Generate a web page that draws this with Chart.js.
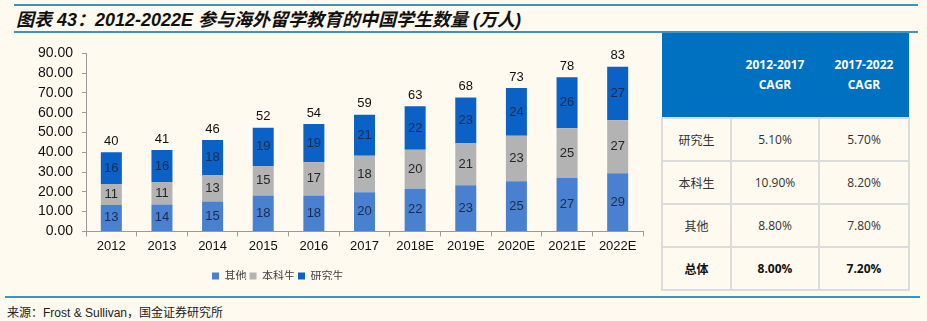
<!DOCTYPE html>
<html>
<head>
<meta charset="utf-8">
<script src="https://cdn.jsdelivr.net/npm/chart.js@4"></script>
<style>
  body { margin: 0; width: 927px; height: 321px; background: #fefaf0; position: relative; overflow: hidden; font-family: "Liberation Sans", Arial, "Noto Sans CJK SC", sans-serif; }
  .rule { position: absolute; height: 2px; background: #3a95c3; }
  #title { position: absolute; left: 16px; top: 5px; font: italic bold 18px "Liberation Sans", Arial, "Noto Sans CJK SC", sans-serif; color: #111; white-space: nowrap; }
  #chartBox { position: absolute; left: 0; top: 36px; width: 655px; height: 256px; }
  #source { position: absolute; left: 7px; top: 303px; font-size: 12px; color: #222; font-family: "Liberation Sans", Arial, "Noto Sans CJK SC", sans-serif; }
  #cagr { position: absolute; left: 661px; top: 33px; width: 247px; border-collapse: collapse; table-layout: fixed; font-family: "Open Sans", "Noto Sans CJK SC", sans-serif; }
  #cagr th { background: #0070c0; color: #fff; font-size: 12px; font-weight: bold; height: 84px; padding: 0; line-height: 20px; }
  #cagr td { border: 2px solid #dcdcdc; height: 41px; padding: 0; text-align: center; font-size: 12px; color: #333; }
  #cagr tr.total td { font-weight: bold; color: #111; }
</style>
</head>
<body>
<div class="rule" style="left:14px; top:4px; width:904px;"></div>
<div id="title">图表 43：2012-2022E 参与海外留学教育的中国学生数量 (万人)</div>
<div class="rule" style="left:14px; top:31px; width:904px;"></div>
<div id="chartBox"><canvas id="chart"></canvas></div>
<table id="cagr"></table>
<div class="rule" style="left:5px; top:296px; width:915px;"></div>
<div id="source">来源：Frost &amp; Sullivan，国金证券研究所</div>
<script>
const categories = ["2012", "2013", "2014", "2015", "2016", "2017", "2018E", "2019E", "2020E", "2021E", "2022E"];
const otherValues = [13.4, 13.6, 15.1, 18.2, 18.2, 19.8, 21.6, 23.3, 25.3, 27.0, 29.4];
const undergradValues = [10.6, 11.4, 13.4, 14.9, 16.8, 18.4, 19.7, 21.4, 23.0, 25.2, 26.8];
const graduateValues = [16.0, 16.1, 17.7, 19.3, 19.3, 20.8, 22.0, 23.0, 24.2, 25.8, 27.0];
const totalLabels = [40, 41, 46, 52, 54, 59, 63, 68, 73, 78, 83];
const yTickValues = [0, 10, 20, 30, 40, 50, 60, 70, 80, 90];

const tableHeaders = ["", "2012-2017<br>CAGR", "2017-2022<br>CAGR"];
const rowNames = ["研究生", "本科生", "其他", "总体"];
const cagr2012to2017 = ["5.10%", "10.90%", "8.80%", "8.00%"];
const cagr2017to2022 = ["5.70%", "8.20%", "7.80%", "7.20%"];

// table on the right
const table = document.getElementById("cagr");
let html = "<colgroup><col style='width:69px'><col style='width:88px'><col style='width:90px'></colgroup><tr>";
tableHeaders.forEach((h) => { html += "<th>" + h + "</th>"; });
html += "</tr>";
rowNames.forEach((name, i) => {
  html += "<tr" + (i === rowNames.length - 1 ? " class='total'" : "") + "><td>" + name + "</td><td>" +
    cagr2012to2017[i] + "</td><td>" + cagr2017to2022[i] + "</td></tr>";
});
table.innerHTML = html;

const barLabels = {
  id: "barLabels",
  afterDatasetsDraw(chart) {
    const ctx = chart.ctx;
    ctx.save();
    ctx.textAlign = "center";
    ctx.textBaseline = "middle";
    ctx.font = '13px "Liberation Sans", Arial, sans-serif';
    chart.data.datasets.forEach((ds, i) => {
      ctx.fillStyle = ds.labelColor;
      chart.getDatasetMeta(i).data.forEach((bar, j) => {
        ctx.fillText(Math.round(ds.data[j]), bar.x, (bar.y + bar.base) / 2);
      });
    });
    ctx.fillStyle = "#111";
    chart.getDatasetMeta(chart.data.datasets.length - 1).data.forEach((bar, j) => {
      ctx.fillText(totalLabels[j], bar.x, bar.y - 11);
    });
    ctx.restore();
  }
};

// legend sits left of centre in the original
const legendPlacer = {
  id: "legendPlacer",
  beforeDraw(chart) {
    chart.legend.left = 209;
    chart.legend.top = 231.5;
  }
};

new Chart(document.getElementById("chart"), {
  type: "bar",
  data: {
    labels: categories,
    datasets: [
      { label: "其他", data: otherValues, backgroundColor: "#4a80d0", labelColor: "#1c2b4a" },
      { label: "本科生", data: undergradValues, backgroundColor: "#b3b3b3", labelColor: "#262626" },
      { label: "研究生", data: graduateValues, backgroundColor: "#0a62c6", labelColor: "#1c2b4a" },
    ],
  },
  options: {
    responsive: true,
    maintainAspectRatio: false,
    animation: false,
    layout: { padding: { top: 15, right: 12, bottom: 12, left: 0 } },
    datasets: { bar: { categoryPercentage: 1, barPercentage: 0.415 } },
    scales: {
      x: {
        stacked: true,
        grid: { display: true, drawOnChartArea: false, tickLength: 5, color: "#9a9a9a" },
        border: { color: "#9a9a9a" },
        ticks: { color: "#111", padding: 2, maxRotation: 0, autoSkip: false, font: { size: 13, family: '"Liberation Sans", Arial, sans-serif' } },
      },
      y: {
        stacked: true,
        min: yTickValues[0],
        max: yTickValues[yTickValues.length - 1],
        afterFit(scale) { scale.width = 86; },
        afterBuildTicks(scale) { scale.ticks = yTickValues.map((v) => ({ value: v })); },
        grid: { display: true, drawOnChartArea: false, tickLength: 4, color: "#9a9a9a" },
        border: { color: "#9a9a9a" },
        ticks: {
          autoSkip: false,
          padding: 9,
          color: "#111",
          font: { size: 14, family: '"Liberation Sans", Arial, sans-serif' },
          callback: (v) => v.toFixed(2),
        },
      },
    },
    plugins: {
      tooltip: { enabled: false },
      legend: {
        position: "bottom",
        align: "start",
        labels: { boxWidth: 7, boxHeight: 7, padding: 3, color: "#404040", font: { size: 11, family: '"Noto Sans CJK SC", sans-serif' } },
      },
    },
  },
  plugins: [barLabels, legendPlacer],
});
</script>
</body>
</html>
